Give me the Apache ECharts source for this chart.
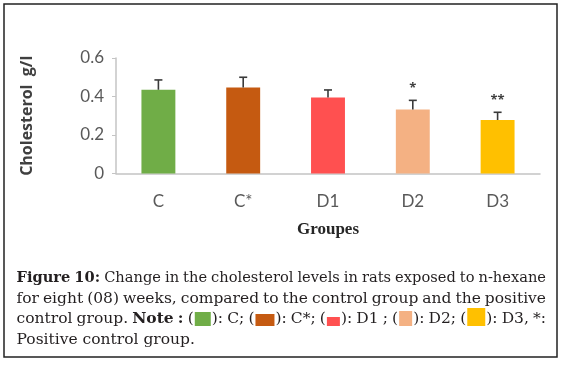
<!DOCTYPE html>
<html>
<head>
<meta charset="utf-8">
<script src="https://cdn.jsdelivr.net/npm/echarts@6/dist/echarts.min.js"></script>
<style>
  html, body { margin: 0; padding: 0; background: #fff; }
  #chart { width: 563px; height: 365px; }
</style>
</head>
<body>
<div id="chart"></div>
<script>
  // chart values
  const groups = ['C', 'C*', 'D1', 'D2', 'D3'];
  const cholesterol = [0.435, 0.447, 0.395, 0.333, 0.278];
  const errors = [0.051, 0.053, 0.039, 0.047, 0.04];
  const signif = ['', '', '', '*', '**'];
  const barColors = ['#70AD47', '#C55A11', '#FF5050', '#F4B183', '#FFC000'];
  const yRange = [0, 0.6, 0.2];

  // caption: ^bold^ and [n] = colour box n
  const captionLines = [
    '^Figure^ ^10:^ Change in the cholesterol levels in rats exposed to n-hexane',
    'for eight (08) weeks, compared to the control group and the positive',
    'control group. ^Note^ ^:^ ([0]): C; ([1]): C*; ([2]): D1 ; ([3]): D2; ([4]): D3, *:',
    'Positive control group.',
  ];
  const boxSizes = [[16, 14], [19, 12], [13, 9], [13, 15], [18, 18]];

  const capFont = '"DejaVu Serif"';
  const capSize = 15.5;
  const capLeft = 16.5;
  const capRight = 546;
  const capBase = [283.5, 304, 324.5, 345];
  const minGap = 4;

  const measure = document.createElement('canvas').getContext('2d');
  const fontOf = (bold) => (bold ? 'bold ' : '') + capSize + 'px ' + capFont;
  const textWidth = (t, bold) => {
    measure.font = fontOf(bold);
    return measure.measureText(t).width;
  };

  const parseWord = (w) => {
    const pieces = [];
    const re = /\^([^\^]+)\^|\[(\d)\]|([^\^\[]+)/g;
    let m;
    while ((m = re.exec(w))) {
      if (m[1]) pieces.push({ t: m[1], bold: true, w: textWidth(m[1], true) });
      else if (m[2]) {
        const s = boxSizes[+m[2]];
        pieces.push({ box: +m[2], w: s[0] + 2 });
      } else pieces.push({ t: m[3], bold: false, w: textWidth(m[3], false) });
    }
    return pieces;
  };

  const captionGraphics = [];
  captionLines.forEach((line, li) => {
    const words = line.split(' ').map(parseWord);
    const widths = words.map((p) => p.reduce((s, x) => s + x.w, 0));
    const total = widths.reduce((a, b) => a + b, 0);
    const justify = li < captionLines.length - 1;
    const avail = capRight - capLeft;
    let sx = 1;
    let gap = textWidth(' ', false);
    if (justify) {
      gap = (avail - total) / (words.length - 1);
      if (gap < minGap) {
        gap = minGap;
        sx = (avail - minGap * (words.length - 1)) / total;
      }
    }
    let x = capLeft;
    const base = capBase[li];
    words.forEach((pieces) => {
      pieces.forEach((p) => {
        if (p.box !== undefined) {
          const s = boxSizes[p.box];
          captionGraphics.push({
            type: 'rect',
            shape: { x: x + 1, y: base + 1.5 - s[1], width: s[0], height: s[1] },
            style: { fill: barColors[p.box] },
          });
        } else {
          captionGraphics.push({
            type: 'text',
            x: x,
            y: base - 5.4,
            scaleX: sx,
            style: {
              text: p.t,
              font: fontOf(p.bold),
              fill: '#231f20',
              verticalAlign: 'middle',
              align: 'left',
            },
          });
        }
        x += p.w * sx;
      });
      x += gap;
    });
  });

  const option = {
    animation: false,
    backgroundColor: '#fff',
    grid: {
      left: 116,
      right: 23,
      top: 58,
      bottom: 191.5,
    },
    xAxis: {
      type: 'category',
      data: groups,
      name: 'Groupes',
      nameLocation: 'middle',
      nameGap: 48,
      nameTextStyle: {
        fontFamily: '"Liberation Serif"',
        fontWeight: 'bold',
        fontSize: 17,
        color: '#262626',
      },
      axisLine: { lineStyle: { color: '#c4c4c4', width: 1.5 } },
      axisTick: { length: 5, lineStyle: { color: '#c4c4c4' } },
      axisLabel: {
        margin: 20,
        fontFamily: 'Lato',
        fontSize: 17,
        color: '#595959',
      },
    },
    yAxis: {
      type: 'value',
      min: yRange[0],
      max: yRange[1],
      interval: yRange[2],
      name: 'Cholesterol  g/l',
      nameLocation: 'middle',
      nameGap: 81,
      nameTextStyle: {
        fontFamily: '"Open Sans"',
        fontWeight: 'bold',
        fontSize: 16,
        color: '#404040',
      },
      axisLine: { show: true, lineStyle: { color: '#c4c4c4', width: 1.5 } },
      axisTick: { show: true, length: 4, lineStyle: { color: '#c4c4c4' } },
      splitLine: { show: false },
      axisLabel: {
        margin: 12,
        fontFamily: 'Lato',
        fontSize: 17,
        color: '#595959',
        formatter: (v) => (v === 0 ? '0' : v.toFixed(1)),
      },
    },
    series: [
      {
        type: 'bar',
        data: cholesterol,
        barWidth: '40%',
        itemStyle: {
          color: (p) => barColors[p.dataIndex],
        },
      },
      {
        type: 'custom',
        data: cholesterol.map((v, i) => [i, v, errors[i]]),
        encode: { x: 0, y: 1 },
        z: 3,
        renderItem: (params, api) => {
          const i = api.value(0);
          const base = api.coord([i, api.value(1)]);
          const top = api.coord([i, api.value(1) + api.value(2)]);
          const stroke = { stroke: '#3a3a3a', lineWidth: 1.6 };
          const children = [
            { type: 'line', shape: { x1: base[0], y1: base[1], x2: top[0], y2: top[1] }, style: stroke },
            { type: 'line', shape: { x1: top[0] - 4, y1: top[1], x2: top[0] + 4, y2: top[1] }, style: stroke },
          ];
          const s = signif[params.dataIndex];
          if (s) {
            children.push({
              type: 'text',
              x: top[0],
              y: top[1] - 12,
              style: {
                text: s,
                font: 'bold 13px "Open Sans"',
                fill: '#404040',
                align: 'center',
                verticalAlign: 'middle',
              },
            });
          }
          return { type: 'group', children };
        },
      },
    ],
    graphic: [
      {
        type: 'rect',
        shape: { x: 4, y: 4, width: 553, height: 353 },
        style: { fill: 'none', stroke: '#222', lineWidth: 1.5 },
        z: 10,
      },
      ...captionGraphics,
    ],
  };

  const myChart = echarts.init(document.getElementById('chart'));
  myChart.setOption(option);
</script>
</body>
</html>
